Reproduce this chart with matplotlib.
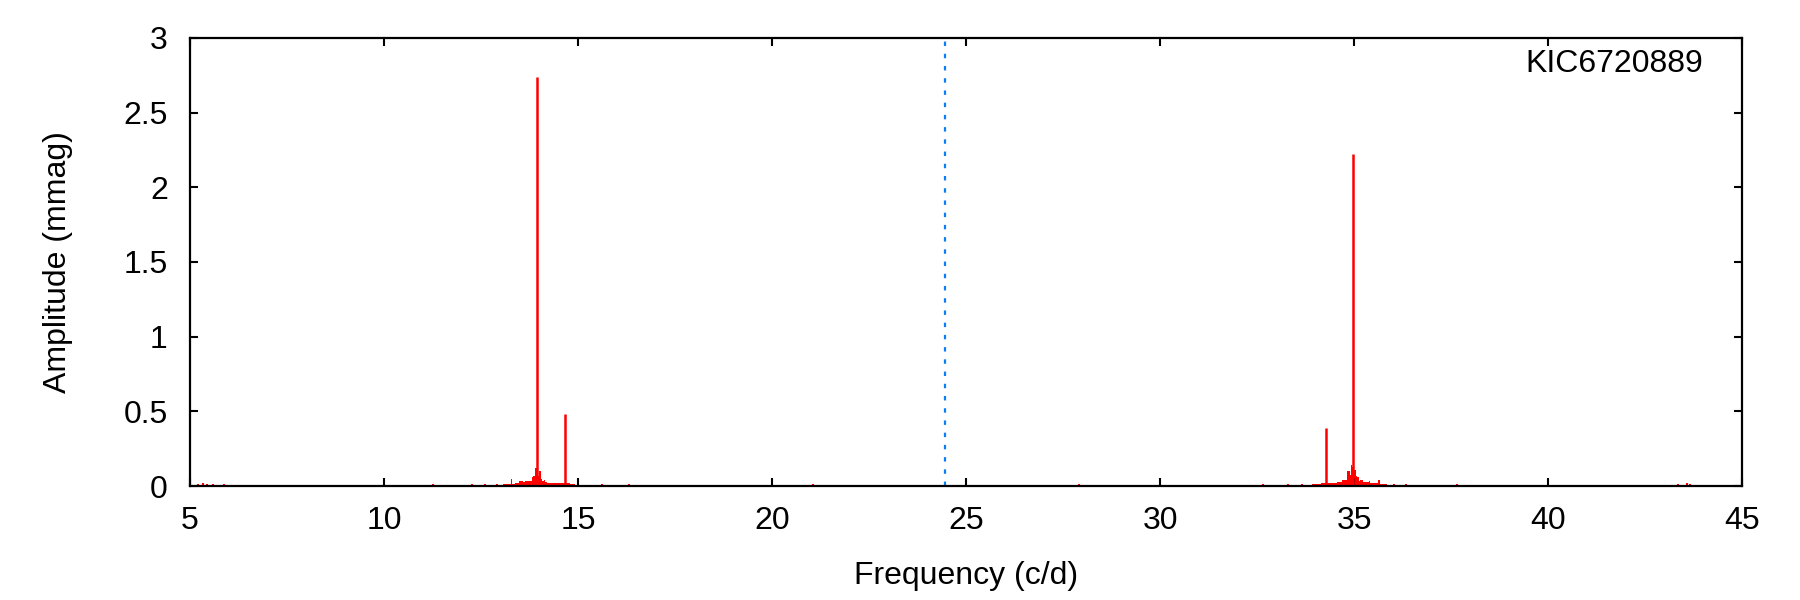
import matplotlib
matplotlib.use('Agg')
import matplotlib.pyplot as plt

plt.rcParams['font.family'] = ['Liberation Sans', 'DejaVu Sans']

#######################
###   Data          ###
#######################

star = 'KIC6720889'
nyquist = 24.46  # c/d

# main peaks
peak_f = [13.94, 14.66, 34.27, 34.98]
peak_a = [2.74, 0.48, 0.386, 2.22]

# noise floor of the spectrum
floor_f = [5.0, 43.92]
floor_a = 0.009

# low humps around the two groups (bin edges + amplitude)
hump1_edges = [13.07, 13.27, 13.31, 13.38, 13.48, 13.53, 13.58, 13.64, 13.80, 13.84, 13.88,
               13.92, 13.96, 14.00, 14.04, 14.08, 14.12, 14.15, 14.19, 14.40, 14.66, 14.78, 14.92]
hump1_amp = [0.013, 0.047, 0.013, 0.022, 0.031, 0.035, 0.027, 0.035, 0.058, 0.067, 0.12,
             0.12, 0.067, 0.10, 0.047, 0.033, 0.04, 0.027, 0.02, 0.02, 0.02, 0.013]

hump2_edges = [33.91, 34.14, 34.25, 34.55, 34.68, 34.82, 34.89, 34.93, 34.96, 35.01, 35.05,
               35.08, 35.12, 35.16, 35.22, 35.38, 35.42, 35.62, 35.67, 35.85]
hump2_amp = [0.013, 0.022, 0.022, 0.029, 0.04, 0.10, 0.074, 0.14, 0.13, 0.107, 0.067,
             0.058, 0.036, 0.04, 0.029, 0.036, 0.022, 0.042, 0.013]

# small isolated spikes
noise_f = [5.2, 5.34, 5.44, 5.6, 5.88, 11.26, 12.26, 12.6, 12.9, 15.61, 16.3, 21.06,
           27.9, 32.66, 33.3, 33.66, 36.03, 36.33, 37.66, 43.34, 43.57, 43.66]
noise_a = [0.015, 0.02, 0.015, 0.013, 0.015, 0.012, 0.012, 0.014, 0.014, 0.014, 0.014, 0.014,
           0.012, 0.014, 0.014, 0.014, 0.014, 0.014, 0.014, 0.014, 0.02, 0.014]

xticks = [5, 10, 15, 20, 25, 30, 35, 40, 45]
yticks = [0, 0.5, 1, 1.5, 2, 2.5, 3]
yticklabels = ['0', '0.5', '1', '1.5', '2', '2.5', '3']

#######################
###   Plotting      ###
#######################

fig = plt.figure(figsize=(18, 6), dpi=100)
ax = fig.add_axes([0.1056, 0.19, 0.8622, 0.7467])

red = '#ff0000'
ax.fill_between(floor_f, 0, floor_a, color=red, lw=0)
ax.stairs(hump1_amp, hump1_edges, fill=True, color=red, lw=0)
ax.stairs(hump2_amp, hump2_edges, fill=True, color=red, lw=0)
ax.vlines(noise_f, 0, noise_a, color=red, lw=1.5)
ax.vlines(peak_f, 0, peak_a, color=red, lw=1.8)

ax.axvline(nyquist, color='#0a7ef5', lw=1.6, linestyle=(0, (2, 3.5)))

ax.text(0.975, 0.942, star, transform=ax.transAxes, ha='right', va='center', fontsize=23)

ax.set_xlim(5, 45)
ax.set_ylim(0, 3)
ax.set_xticks(xticks)
ax.set_xticklabels([str(t) for t in xticks])
ax.set_yticks(yticks)
ax.set_yticklabels(yticklabels)
ax.tick_params(direction='in', length=5.5, width=1.5, top=True, right=True, labelsize=23)
ax.tick_params(axis='x', pad=14.5)
ax.tick_params(axis='y', pad=16)
for s in ax.spines.values():
    s.set_linewidth(1.6)
    s.set_zorder(5)

ax.set_xlabel('Frequency (c/d)', fontsize=23, labelpad=18)
ax.set_ylabel('Amplitude (mmag)', fontsize=23, labelpad=36)

plt.savefig('out.png', dpi=100)
